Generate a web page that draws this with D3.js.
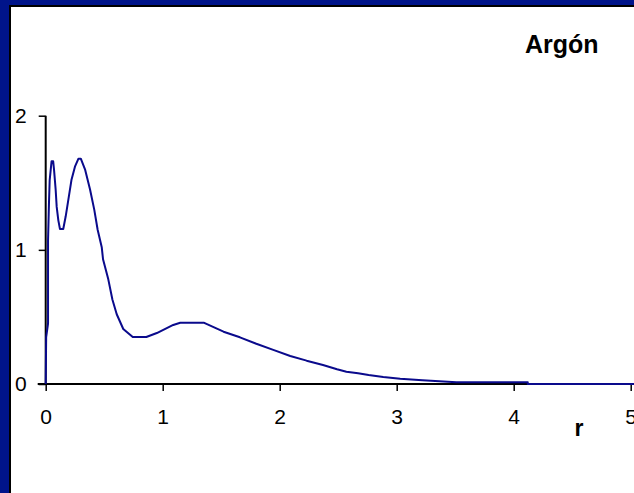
<!DOCTYPE html>
<html>
<head>
<meta charset="utf-8">
<script src="https://cdn.jsdelivr.net/npm/d3@7"></script>
<style>
  body { margin: 0; padding: 0; }
  svg { display: block; font-family: "Liberation Sans", Arial, sans-serif; }
</style>
</head>
<body>
<div id="chart"></div>
<script>
// radial distribution
const rValues = [0, 0.004, 0.02, 0.02, 0.028, 0.034, 0.05, 0.064, 0.071, 0.085, 0.094, 0.108, 0.122, 0.15,
  0.171, 0.193, 0.22, 0.25, 0.28, 0.30, 0.336, 0.379, 0.415, 0.444, 0.479, 0.49, 0.535, 0.57, 0.607,
  0.663, 0.744, 0.86, 0.95, 1.09, 1.15, 1.35, 1.52, 1.66, 1.80, 1.945, 2.09, 2.23, 2.37, 2.49, 2.57,
  2.67, 2.76, 2.885, 3.03, 3.22, 3.51, 4.12, 4.12, 5.03];
const gValues = [0, 0.35, 0.45, 1.07, 1.35, 1.52, 1.66, 1.66, 1.6, 1.45, 1.32, 1.22, 1.155, 1.155,
  1.25, 1.37, 1.52, 1.62, 1.68, 1.68, 1.60, 1.45, 1.30, 1.15, 1.02, 0.93, 0.78, 0.63, 0.52,
  0.41, 0.35, 0.35, 0.38, 0.44, 0.457, 0.457, 0.39, 0.348, 0.30, 0.254, 0.209, 0.174, 0.142, 0.11, 0.092,
  0.08, 0.067, 0.052, 0.04, 0.028, 0.013, 0.013, 0, 0];
const xTicks = [0, 1, 2, 3, 4, 5];
const yTicks = [0, 1, 2];
const title = "Argón";
const xLabel = "r";

const width = 634, height = 493;

const svg = d3.select("#chart").append("svg")
  .attr("width", width)
  .attr("height", height);

// navy frame on left and top
svg.append("rect").attr("width", width).attr("height", height).attr("fill", "#00148a");
svg.append("rect").attr("x", 9).attr("y", 5).attr("width", width).attr("height", height).attr("fill", "#000");
svg.append("rect").attr("x", 11).attr("y", 7).attr("width", width).attr("height", height).attr("fill", "#fff");

const x = d3.scaleLinear().domain([0, 5]).range([45.7, 630.7]);
const y = d3.scaleLinear().domain([0, 2]).range([384, 115.7]);

const xAxis = svg.append("g")
  .attr("transform", "translate(0,384)")
  .call(d3.axisBottom(x).tickValues(xTicks).tickFormat(d3.format("d"))
    .tickSize(7).tickSizeOuter(0).tickPadding(18));
xAxis.select(".domain").remove();
xAxis.append("line")
  .attr("x1", x(0) - 8).attr("x2", width)
  .attr("stroke", "#000").attr("stroke-width", 2);

const yAxis = svg.append("g")
  .attr("transform", "translate(" + x(0) + ",0)")
  .call(d3.axisLeft(y).tickValues(yTicks).tickFormat(d3.format("d"))
    .tickSize(7).tickSizeOuter(0).tickPadding(12));
yAxis.select(".domain").remove();
yAxis.append("line")
  .attr("y1", y(2)).attr("y2", y(0))
  .attr("stroke", "#000").attr("stroke-width", 2);

svg.selectAll(".tick line").attr("stroke", "#000").attr("stroke-width", 1.5);
svg.selectAll(".tick text")
  .attr("fill", "#000")
  .style("font-size", "21px")
  .style("font-family", "'Liberation Sans', Arial, sans-serif");

const pts = rValues.map((r, i) => [r, gValues[i]]);
const line = d3.line()
  .x(d => x(d[0]))
  .y(d => y(d[1]));

svg.append("path")
  .datum(pts)
  .attr("fill", "none")
  .attr("stroke", "#0a0a8c")
  .attr("stroke-width", 2)
  .attr("stroke-linejoin", "round")
  .attr("d", line);

svg.append("text")
  .attr("x", 525).attr("y", 53)
  .style("font-size", "25px").style("font-weight", "bold")
  .text(title);

svg.append("text")
  .attr("x", 579).attr("y", 436)
  .attr("text-anchor", "middle")
  .style("font-size", "23px").style("font-weight", "bold")
  .text(xLabel);
</script>
</body>
</html>
